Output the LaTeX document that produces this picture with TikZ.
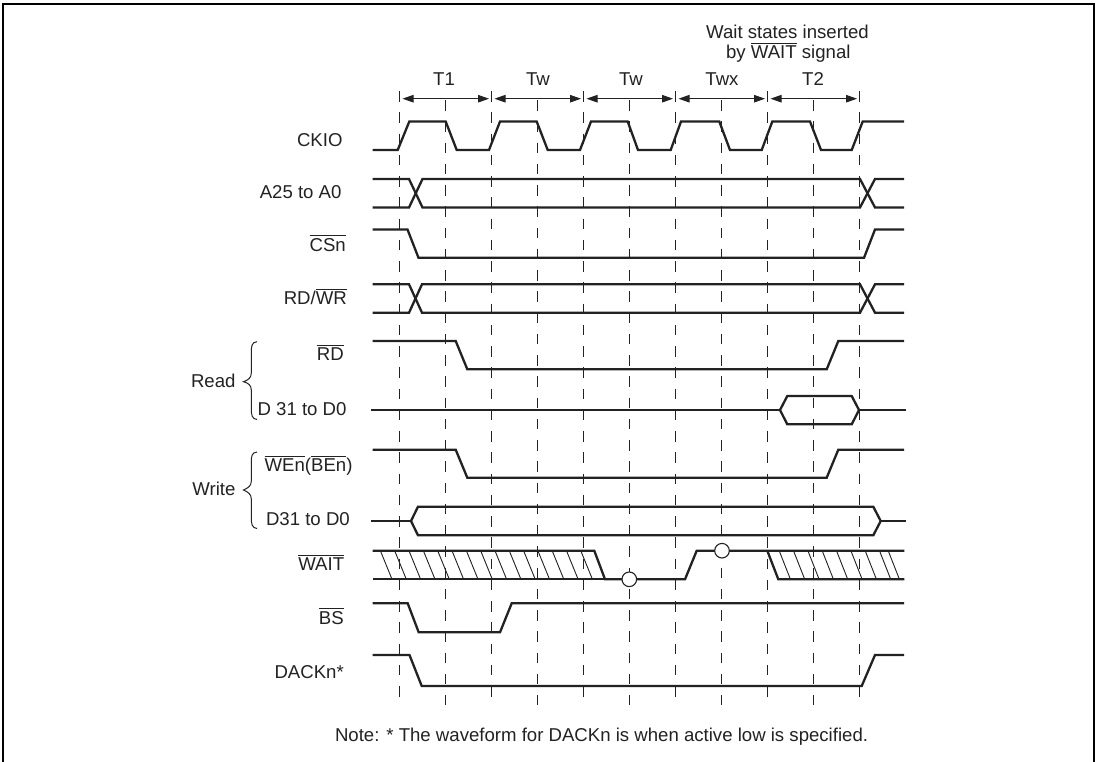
\documentclass[tikz,border=0pt]{standalone}
\usepackage{fontspec}
\setmainfont{Liberation Sans}
\usetikzlibrary{arrows.meta}
\definecolor{ink}{HTML}{222222}
\newcommand{\ov}[1]{\leavevmode\vbox{\hrule height 0.8pt \kern 1.9pt \hbox{#1}}}
\tikzset{
  sig/.style={draw=ink,line width=2.3pt,line join=miter},
  tail/.style={draw=ink,line width=1.9pt},
  thin hatch/.style={draw=ink,line width=0.9pt},
  grid/.style={draw=ink,line width=1.1pt,dash pattern=on 10.6pt off 10.65pt},
  span/.style={draw=ink,line width=0.9pt,shorten <=3pt,shorten >=2.5pt,{Triangle[length=11pt,width=7.5pt]}-{Triangle[length=11pt,width=7.5pt]}},
  lab/.style={text=ink,font=\fontsize{18.6}{20}\selectfont,inner sep=0pt},
  rlab/.style={lab,anchor=base east},
  clab/.style={lab,anchor=base},
  dot/.style={draw=ink,fill=white,line width=1.1pt,circle,minimum size=14.6pt,inner sep=0pt},
  brace/.style={draw=ink,line width=1pt},
  frame/.style={draw=black,line width=2.2pt}
}
\begin{document}
\begin{tikzpicture}[x=1pt,y=-1pt]
\useasboundingbox (0,0) rectangle (1100,761);
\fill[white] (0,0) rectangle (1100,761);
\draw[frame] (2.8,800) -- (2.8,4.2) -- (1094.3,4.2) -- (1094.3,800);
% grid
\foreach \x in {399.5,491.5,583.5,675.5,767.5,859.5}{\draw[grid] (\x,91) -- (\x,697);}
\foreach \x in {445.5,537.5,629.5,721.5,813.5}{\draw[grid] (\x,100) -- (\x,705);}
% spans
\coordinate (m0) at (399.5,98.7);\coordinate (m1) at (491.5,98.7);\coordinate (m2) at (583.5,98.7);
\coordinate (m3) at (675.5,98.7);\coordinate (m4) at (767.5,98.7);\coordinate (m5) at (859.5,98.7);
\draw[span] (m0) -- (m1);\draw[span] (m1) -- (m2);\draw[span] (m2) -- (m3);\draw[span] (m3) -- (m4);\draw[span] (m4) -- (m5);
\node[clab] (t1) at (444,85) {T1};
\node[clab] (t2) at (538,85) {Tw};
\node[clab] (t3) at (631,85) {Tw};
\node[clab] (t4) at (722,85) {Twx};
\node[clab] (t5) at (813,85) {T2};
\node[clab] (ws1) at (787.5,38.3) {Wait states inserted};
\node[clab] (ws2) at (788.3,58.3) {by \ov{WAIT} signal};
% CKIO
\draw[sig] (372.7,150) -- (397.7,150) -- (409.3,121.5) -- (445.7,121.5) -- (456.7,150) -- (489,150) -- (500,121.5) -- (536.7,121.5) -- (547.7,150) -- (580,150) -- (591,121.5) -- (627.7,121.5) -- (638,150) -- (670.7,150) -- (681,121.5) -- (719.3,121.5) -- (730,150) -- (761.7,150) -- (772.3,121.5) -- (810,121.5) -- (821,150) -- (851.7,150) -- (862.7,121.5) -- (904,121.5);
% A25
\draw[sig] (372.7,179) -- (409,179) -- (422.5,207.5) -- (860,207.5) -- (875,179) -- (904,179);
\draw[sig] (372.7,207.5) -- (409,207.5) -- (422.5,179) -- (860,179) -- (875,207.5) -- (904,207.5);
% CSn
\draw[sig] (372.7,229.5) -- (407.5,229.5) -- (418.5,257.8) -- (864,257.8) -- (875,229.5) -- (904,229.5);
% RD/WR
\draw[sig] (372.7,284.3) -- (409,284.3) -- (422,312.7) -- (860,312.7) -- (875,284.3) -- (904,284.3);
\draw[sig] (372.7,312.7) -- (409,312.7) -- (422,284.3) -- (860,284.3) -- (875,312.7) -- (904,312.7);
% RD
\draw[sig] (372.7,341) -- (455.7,341) -- (467.3,369.3) -- (826.7,369.3) -- (838.3,341) -- (904,341);
% D read
\draw[tail] (371.3,410) -- (780,410);
\draw[tail] (859,410) -- (906,410);
\draw[sig] (780,410) -- (787.3,396) -- (851.7,396) -- (859,410) -- (851.7,424.3) -- (787.3,424.3) -- cycle;
% WEn
\draw[sig] (372.7,449.7) -- (455.7,449.7) -- (467.3,477.7) -- (826.7,477.7) -- (838.3,449.7) -- (904,449.7);
% D write
\draw[tail] (371.3,521) -- (411,521);
\draw[tail] (880.7,521) -- (905.7,521);
\draw[sig] (411,521) -- (418,506.7) -- (873.3,506.7) -- (880.7,521) -- (873.3,535.3) -- (418,535.3) -- cycle;
% WAIT
\foreach \x in {380.5,394.8,409.1,423.5,437.8,452.1,466.5,480.8,495.1,509.4,523.7,538,552.3,566.6,580.9}{\draw[thin hatch] (\x,551) -- (\x+11.4,579);}
\foreach \x in {779.3,793.6,808,822.3,836.6,851,865.3,879.6,888.3}{\draw[thin hatch] (\x,551) -- (\x+11,579);}
\draw[sig] (372.7,550.7) -- (594.3,550.7) -- (605,579.3) -- (685,579.3) -- (696.7,550.7) -- (904.3,550.7);
\draw[sig] (372.7,579.3) -- (605,579.3);
\draw[sig] (767.3,550.7) -- (778.3,579.3) -- (904.3,579.3);
\node[dot] (c1) at (629.3,579.3) {};
\node[dot] (c2) at (722,550.7) {};
% BS
\draw[sig] (372.7,603.3) -- (407.7,603.3) -- (418.7,632.3) -- (500,632.3) -- (511.7,603.3) -- (904,603.3);
% DACK
\draw[sig] (372.7,655) -- (409.5,655) -- (421.7,686) -- (861.7,686) -- (875,655) -- (904,655);
% braces
\draw[brace] (257,341.7) .. controls (251.5,342) and (251.3,347) .. (251.3,352) -- (251.3,373) .. controls (251.3,378) and (248,380) .. (243.5,381.7) .. controls (248,383) and (251.3,385) .. (251.3,390) -- (251.3,409) .. controls (251.3,415) and (252,419) .. (257,419.5);
\draw[brace] (257,452) .. controls (251.5,452.3) and (251.3,457) .. (251.3,462) -- (251.3,481) .. controls (251.3,486) and (248,488) .. (243.5,490) .. controls (248,492) and (251.3,494) .. (251.3,499) -- (251.3,518) .. controls (251.3,524) and (252,528) .. (257,528.5);
% labels
\node[rlab] (l1) at (342.7,146) {CKIO};
\node[rlab] (l2) at (341.7,198.3) {A25 to A0};
\node[rlab] (l3) at (346,251) {\ov{CSn}};
\node[rlab] (l4) at (347,304) {RD/\ov{WR}};
\node[rlab] (l5) at (344,360.7) {\ov{RD}};
\node[rlab] (l6) at (235.7,387.7) {Read};
\node[rlab] (l7) at (346.7,415) {D 31 to D0};
\node[rlab] (l8) at (352.7,471) {\ov{WEn}(\ov{BEn})};
\node[rlab] (l9) at (235.7,495) {Write};
\node[rlab] (l10) at (350,525) {D31 to D0};
\node[rlab] (l11) at (344.3,570.7) {\ov{WAIT}};
\node[rlab] (l12) at (344,624) {\ov{BS}};
\node[rlab] (l13) at (344,678.7) {DACKn*};
\node[rlab] (note) at (868.3,741.7) {Note: * The waveform for DACKn is when active low is specified.};
\end{tikzpicture}
\end{document}
